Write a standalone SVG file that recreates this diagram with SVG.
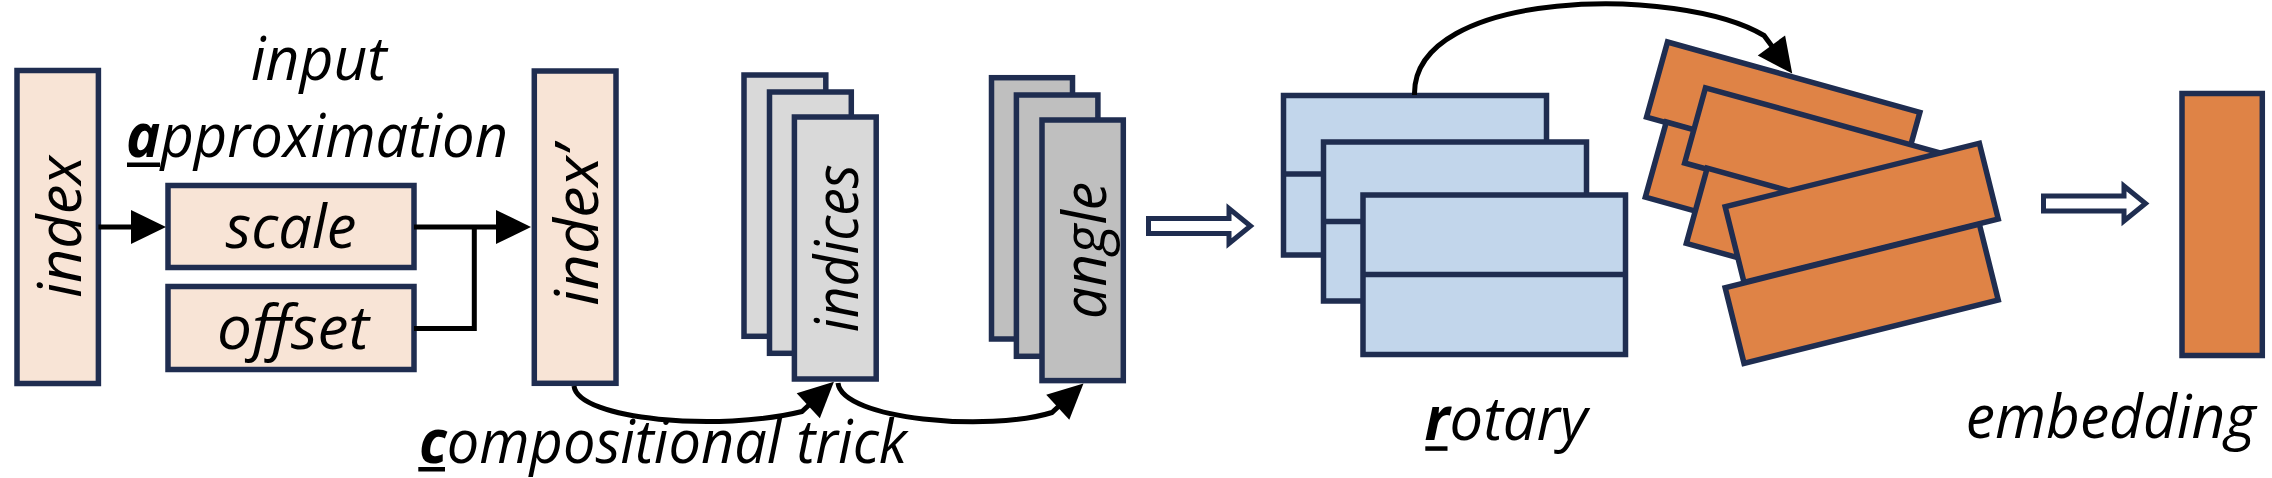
<svg xmlns="http://www.w3.org/2000/svg" xmlns:xlink="http://www.w3.org/1999/xlink" width="2272" height="478" viewBox="0 0 2272 478">
<style>
  .box { stroke: #1f2d50; stroke-width: 5.5; }
  .peach { fill: #f8e4d6; }
  .lgray { fill: #d9d9d9; }
  .dgray { fill: #bfbfbf; }
  .blue { fill: #c2d6eb; }
  .orange { fill: #df8346; }
  .div { stroke: #1f2d50; stroke-width: 5.5; fill: none; }
  .conn { stroke: #000; stroke-width: 5; fill: none; }
  .hollow { fill: #fff; stroke: #1f2d50; stroke-width: 5; }
  .lbl { font-family: "Open Sans", "Noto Sans", sans-serif; font-style: italic; font-size: 60px; fill: #000; }
  .ul { fill: #000; }
</style>
<defs>
  <marker id="ah" markerUnits="userSpaceOnUse" markerWidth="40" markerHeight="40" viewBox="0 -20 40 40" refX="1" refY="0" orient="auto" overflow="visible">
    <path d="M0,-17 L35,0 L0,17 Z" fill="#000"/>
  </marker>
  <path id="ha" d="M0,-7.5 H80.5 V-17.5 L102,0 L80.5,17.5 V7.5 H0 Z"/>
  <rect id="orect" x="-131" y="-39" width="262" height="78"/>
</defs>

<!-- labels -->
<g id="label-input">
  <text class="lbl" x="318.7" y="80" text-anchor="middle" textLength="136" lengthAdjust="spacingAndGlyphs">input</text>
</g>
<g id="label-approximation">
  <text class="lbl" x="126" y="157" textLength="382" lengthAdjust="spacingAndGlyphs"><tspan font-weight="bold">a</tspan>pproximation</text>
  <rect class="ul" x="127" y="162.5" width="33" height="4.5"/>
</g>

<g id="node-index">
  <rect class="box peach" x="17" y="70.5" width="81.4" height="313"/>
  <text class="lbl" transform="translate(57.7,227) rotate(-90)" x="0" y="23" text-anchor="middle" textLength="142" lengthAdjust="spacingAndGlyphs">index</text>
</g>
<g id="node-scale">
  <rect class="box peach" x="168" y="185.5" width="246" height="82"/>
  <text class="lbl" x="291" y="248.3" text-anchor="middle" textLength="131" lengthAdjust="spacingAndGlyphs">scale</text>
</g>
<g id="node-offset">
  <rect class="box peach" x="168" y="286.5" width="246" height="83"/>
  <text class="lbl" x="293" y="349" text-anchor="middle" textLength="152" lengthAdjust="spacingAndGlyphs">offset</text>
</g>
<g id="node-index-prime">
  <rect class="box peach" x="534.3" y="71" width="81.7" height="312.3"/>
  <text class="lbl" transform="translate(575,226) rotate(-90)" x="0" y="23" text-anchor="middle" textLength="160" lengthAdjust="spacingAndGlyphs">index’</text>
</g>
<g id="node-indices">
  <rect class="box lgray" x="744" y="75" width="81.8" height="261.3"/>
  <rect class="box lgray" x="769.5" y="92" width="81.8" height="261.3"/>
  <rect class="box lgray" x="794.4" y="117" width="81.8" height="262"/>
  <text class="lbl" transform="translate(835.4,248.3) rotate(-90)" x="0" y="23" text-anchor="middle" textLength="168" lengthAdjust="spacingAndGlyphs">indices</text>
</g>
<g id="node-angle">
  <rect class="box dgray" x="991.5" y="77.7" width="81" height="261.3"/>
  <rect class="box dgray" x="1016.4" y="95" width="81.5" height="261.3"/>
  <rect class="box dgray" x="1042" y="120" width="81.3" height="260.6"/>
  <text class="lbl" transform="translate(1082.7,250.4) rotate(-90)" x="0" y="23" text-anchor="middle" textLength="137" lengthAdjust="spacingAndGlyphs">angle</text>
</g>
<g id="label-compositional-trick">
  <text class="lbl" x="419" y="462.5" font-size="58" textLength="488" lengthAdjust="spacingAndGlyphs"><tspan font-weight="bold">c</tspan>ompositional trick</text>
  <rect class="ul" x="418.3" y="467" width="26.7" height="4.5"/>
</g>

<g id="node-rotary-input">
  <rect class="box blue" x="1283.5" y="95.5" width="263" height="159.5"/>
  <line class="div" x1="1283.5" y1="174" x2="1546.5" y2="174"/>
  <rect class="box blue" x="1323.5" y="142" width="263" height="159"/>
  <line class="div" x1="1323.5" y1="221.5" x2="1586.5" y2="221.5"/>
  <rect class="box blue" x="1363" y="195" width="262.5" height="159.5"/>
  <line class="div" x1="1363" y1="274.5" x2="1625.5" y2="274.5"/>
</g>
<g id="label-rotary">
  <text class="lbl" x="1424.5" y="440" textLength="163" lengthAdjust="spacingAndGlyphs"><tspan font-weight="bold">r</tspan>otary</text>
  <rect class="ul" x="1425.3" y="446.3" width="22.2" height="4.5"/>
</g>

<g id="node-rotated">
  <use href="#orect" xlink:href="#orect" class="box orange" transform="translate(1783.2,114.8) rotate(15.6)"/>
  <use href="#orect" xlink:href="#orect" class="box orange" transform="translate(1782,194.8) rotate(15.6)"/>
  <use href="#orect" xlink:href="#orect" class="box orange" transform="translate(1821.3,160.4) rotate(15.5)"/>
  <use href="#orect" xlink:href="#orect" class="box orange" transform="translate(1823,240.8) rotate(15.5)"/>
  <use href="#orect" xlink:href="#orect" class="box orange" transform="translate(1861.7,212.8) rotate(-14)"/>
  <use href="#orect" xlink:href="#orect" class="box orange" transform="translate(1861.7,293.8) rotate(-14)"/>
</g>

<g id="node-embedding">
  <rect class="box orange" x="2182" y="93.5" width="80.3" height="262"/>
</g>
<g id="label-embedding">
  <text class="lbl" x="2110.8" y="438.3" text-anchor="middle" textLength="290" lengthAdjust="spacingAndGlyphs">embedding</text>
</g>

<g id="connectors">
  <path class="conn" d="M98.4,227 H132" marker-end="url(#ah)"/>
  <path class="conn" d="M414,227 H497" marker-end="url(#ah)"/>
  <path class="conn" d="M414,328.5 H474.3 V227"/>
  <path class="conn" d="M574,386 C578,420 720,432 802,411.5 L809,405" marker-end="url(#ah)"/>
  <path class="conn" d="M838,383 C842,420 990,432 1052,412.5 L1058.5,406.5" marker-end="url(#ah)"/>
  <path class="conn" d="M1414.5,95 C1412,-12 1680,-15 1764,35.5 L1772,46.3" marker-end="url(#ah)"/>
  <use href="#ha" xlink:href="#ha" class="hollow" transform="translate(1148.5,226)"/>
  <use href="#ha" xlink:href="#ha" class="hollow" transform="translate(2043.5,203.5)"/>
</g>
</svg>
